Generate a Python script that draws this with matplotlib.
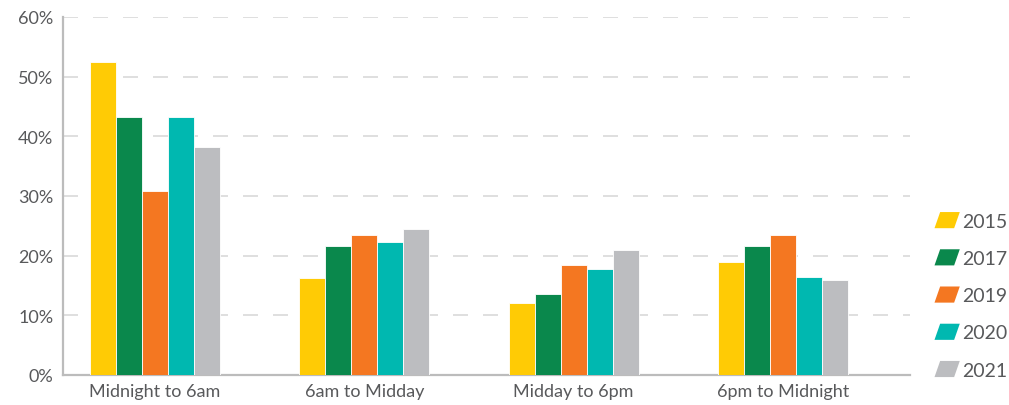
"""
Share of incidents by time of day, 2015-2021
"""
import numpy as np
import matplotlib
matplotlib.use("Agg")
import matplotlib.pyplot as plt
from matplotlib.patches import Polygon
from matplotlib.legend_handler import HandlerPatch
from matplotlib.ticker import FuncFormatter

periods = ["Midnight to 6am", "6am to Midday", "Midday to 6pm", "6pm to Midnight"]
years = ["2015", "2017", "2019", "2020", "2021"]
share_2015 = [52.4, 16.2, 12.1, 18.9]
share_2017 = [43.2, 21.6, 13.6, 21.6]
share_2019 = [30.8, 23.5, 18.4, 23.5]
share_2020 = [43.2, 22.3, 17.8, 16.4]
share_2021 = [38.2, 24.5, 20.9, 15.9]
colours = ["#ffcb05", "#0a884c", "#f47721", "#00b8b0", "#bcbdc0"]

text_grey = "#58595b"
plt.rcParams["font.family"] = ["Lato", "DejaVu Sans"]


class SlantedHandler(HandlerPatch):
    # legend swatches drawn as small parallelograms
    def create_artists(self, legend, orig_handle, xdescent, ydescent,
                       width, height, fontsize, trans):
        slant = height * 0.35
        pts = [(-xdescent + slant, -ydescent + height), (-xdescent + width, -ydescent + height),
               (-xdescent + width - slant, -ydescent), (-xdescent, -ydescent)]
        p = Polygon(pts, closed=True, facecolor=orig_handle.get_facecolor(),
                    edgecolor="none", transform=trans)
        return [p]


fig = plt.figure(figsize=(10.09, 4.06), dpi=100)
ax = fig.add_axes([63 / 1009, 30 / 406, 847 / 1009, 358 / 406])

x = np.arange(len(periods))
bar_w = 0.124
series = [share_2015, share_2017, share_2019, share_2020, share_2021]
handles = []
for i, (vals, c, yr) in enumerate(zip(series, colours, years)):
    bars = ax.bar(x + (i - 2) * bar_w, vals, width=bar_w, color=c,
                  edgecolor="white", linewidth=0.6, label=yr, zorder=3)
    handles.append(bars[0])

ax.set_ylim(0, 60)
ax.set_xlim(-0.44, 3.607)
ax.set_yticks(range(0, 61, 10))
ax.yaxis.set_major_formatter(FuncFormatter(lambda v, _: f"{v:.0f}%"))
ax.set_xticks(x)
ax.set_xticklabels(periods)
ax.tick_params(axis="both", length=0, labelsize=13, colors=text_grey)
ax.tick_params(axis="x", pad=6)
ax.tick_params(axis="y", pad=7)

ax.grid(axis="y", color="#d9d9d9", linestyle=(0, (9, 9)), linewidth=1.2, zorder=0)
for side in ["top", "right"]:
    ax.spines[side].set_visible(False)
for side in ["left", "bottom"]:
    ax.spines[side].set_color("#bcbcbc")
    ax.spines[side].set_linewidth(1.6)

leg = fig.legend(handles, years, loc="center left", bbox_to_anchor=(917 / 1009, 0.27),
                 frameon=False, fontsize=14, labelcolor=text_grey,
                 handler_map={h: SlantedHandler() for h in handles},
                 handlelength=1.3, handleheight=0.9, handletextpad=0.1, labelspacing=1.0)

fig.savefig("out.png", dpi=100)
